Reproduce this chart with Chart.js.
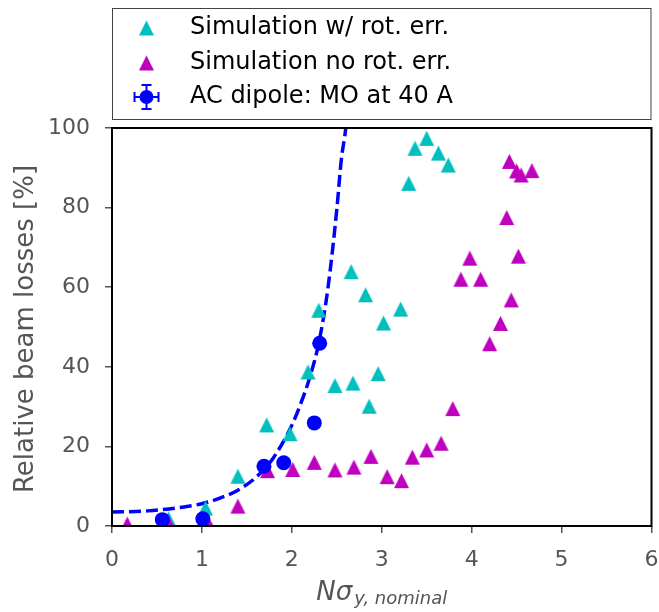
<!DOCTYPE html>
<html>
<head>
<meta charset="utf-8">
<script src="https://cdn.jsdelivr.net/npm/chart.js@4.4.1/dist/chart.umd.min.js"></script>
<style>
  html, body { margin: 0; padding: 0; background: #fff; }
  #wrap { width: 659px; height: 612px; }
</style>
</head>
<body>
<div id="wrap"><canvas id="lossChart" width="659" height="612"></canvas></div>
<script>
// Relative beam losses vs N sigma_y (nominal)
const CYAN = '#00bfbf';
const MAGENTA = '#bf00bf';
const BLUE = '#0000ff';
const TEXT_GRAY = '#555555';
const FONT = '"DejaVu Sans", sans-serif';

// simulation with rotation errors
const rotErrX = [0.63, 1.04, 1.40, 1.72, 1.98, 2.18, 2.30, 2.48, 2.66, 2.68, 2.82, 2.86, 2.96, 3.02, 3.21, 3.30, 3.37, 3.50, 3.63, 3.74];
const rotErrY = [1.8, 4.5, 12.5, 25.4, 23.2, 38.7, 54.2, 35.3, 63.9, 35.9, 58.1, 30.1, 38.3, 51.0, 54.5, 86.1, 94.9, 97.4, 93.7, 90.7];

// simulation without rotation errors
const noRotX = [0.17, 0.64, 1.07, 1.40, 1.73, 2.01, 2.25, 2.48, 2.69, 2.88, 3.06, 3.22, 3.34, 3.50, 3.66, 3.79, 3.88, 3.98, 4.10, 4.20, 4.32, 4.39, 4.42, 4.44, 4.50, 4.52, 4.55, 4.67];
const noRotY = [0.5, 0.3, 0.8, 5.0, 13.9, 14.2, 16.0, 14.1, 14.8, 17.5, 12.4, 11.4, 17.3, 19.1, 20.8, 29.5, 62.0, 67.3, 62.0, 45.8, 50.9, 77.5, 91.6, 56.8, 89.2, 67.8, 88.2, 89.3];

// AC dipole measurement, MO at 40 A
const acX = [0.56, 1.01, 1.69, 1.91, 2.25, 2.31];
const acY = [1.6, 1.8, 15.0, 15.9, 25.9, 45.9];

// dashed fit curve
const fitX = [0, 0.4, 0.8, 1.0, 1.2, 1.4, 1.6, 1.8, 2.0, 2.1, 2.2, 2.3, 2.4, 2.5, 2.55, 2.6, 2.63];
const fitY = [3.5, 3.8, 4.8, 5.6, 7.0, 9.0, 12.2, 17.3, 25.3, 30.8, 37.4, 46.0, 59.5, 79.5, 92.0, 100, 108];

const xTicks = [0, 1, 2, 3, 4, 5, 6];
const yTicks = [0, 20, 40, 60, 80, 100];

const toPoints = (xs, ys) => xs.map((x, i) => ({ x: x, y: ys[i] }));

// matplotlib-like '^' marker (centered on its bounding box)
function triangleMarker(color, size) {
  const c = document.createElement('canvas');
  c.width = size + 2;
  c.height = size + 2;
  const g = c.getContext('2d');
  g.fillStyle = color;
  g.beginPath();
  g.moveTo(1 + size / 2, 1);
  g.lineTo(1 + size, 1 + size);
  g.lineTo(1, 1 + size);
  g.closePath();
  g.fill();
  return c;
}

const TRI_CYAN = triangleMarker(CYAN, 15);
const TRI_MAGENTA = triangleMarker(MAGENTA, 15);

const PLOT = { left: 112, right: 653, top: 128, bottom: 526 };

// frame, axis titles and the legend box
const decorations = {
  id: 'decorations',
  afterDatasetsDraw(chart) {
    const ctx = chart.ctx;
    const a = chart.chartArea;
    ctx.save();
    ctx.strokeStyle = '#000';
    ctx.lineWidth = 2;
    ctx.strokeRect(a.left, a.top, a.right - a.left, a.bottom - a.top);
    ctx.restore();
  },
  afterDraw(chart) {
    const ctx = chart.ctx;
    const a = chart.chartArea;
    ctx.save();

    // y title
    ctx.fillStyle = TEXT_GRAY;
    ctx.font = '26px ' + FONT;
    ctx.textAlign = 'center';
    ctx.textBaseline = 'alphabetic';
    ctx.translate(33, (a.top + a.bottom) / 2 + 2);
    ctx.rotate(-Math.PI / 2);
    ctx.fillText('Relative beam losses [%]', 0, 0);
    ctx.setTransform(1, 0, 0, 1, 0, 0);

    // x title: N sigma with subscript
    const main = 'N\u03c3';
    const sub = 'y, nominal';
    ctx.font = 'italic 26px ' + FONT;
    const wMain = ctx.measureText(main).width;
    ctx.font = 'italic 18px ' + FONT;
    const wSub = ctx.measureText(sub).width;
    const x0 = (a.left + a.right) / 2 - (wMain + wSub + 2) / 2;
    ctx.textAlign = 'left';
    ctx.font = 'italic 26px ' + FONT;
    ctx.fillText(main, x0, 600);
    ctx.font = 'italic 18px ' + FONT;
    ctx.fillText(sub, x0 + wMain + 2, 604);

    // legend
    ctx.strokeStyle = '#444';
    ctx.lineWidth = 1;
    ctx.strokeRect(a.left + 0.5, 8.5, a.right - a.left - 1, 111);
    const mx = 146.5;
    const rows = [28, 63, 97];
    ctx.drawImage(TRI_CYAN, mx - TRI_CYAN.width / 2, rows[0] - TRI_CYAN.height / 2);
    ctx.drawImage(TRI_MAGENTA, mx - TRI_MAGENTA.width / 2, rows[1] - TRI_MAGENTA.height / 2);
    // error bar marker
    const ey = rows[2];
    ctx.strokeStyle = BLUE;
    ctx.lineWidth = 2;
    ctx.beginPath();
    ctx.moveTo(mx - 12, ey); ctx.lineTo(mx + 12, ey);
    ctx.moveTo(mx - 12, ey - 5); ctx.lineTo(mx - 12, ey + 5);
    ctx.moveTo(mx + 12, ey - 5); ctx.lineTo(mx + 12, ey + 5);
    ctx.moveTo(mx, ey - 12); ctx.lineTo(mx, ey + 12);
    ctx.moveTo(mx - 5, ey - 12); ctx.lineTo(mx + 5, ey - 12);
    ctx.moveTo(mx - 5, ey + 12); ctx.lineTo(mx + 5, ey + 12);
    ctx.stroke();
    ctx.fillStyle = BLUE;
    ctx.beginPath();
    ctx.arc(mx, ey, 7, 0, Math.PI * 2);
    ctx.fill();

    ctx.fillStyle = '#000';
    ctx.font = '24px ' + FONT;
    ctx.textAlign = 'left';
    ctx.textBaseline = 'middle';
    const labels = ['Simulation w/ rot. err.', 'Simulation no rot. err.', 'AC dipole: MO at 40 A'];
    labels.forEach((t, i) => ctx.fillText(t, 190, rows[i]));
    ctx.restore();
  }
};

const tickFont = { family: FONT, size: 22 };

new Chart(document.getElementById('lossChart'), {
  type: 'scatter',
  data: {
    datasets: [
      {
        label: 'AC dipole: MO at 40 A',
        data: toPoints(acX, acY),
        pointStyle: 'circle',
        pointRadius: 7.5,
        pointBackgroundColor: BLUE,
        pointBorderWidth: 0,
      },
      {
        label: 'Simulation no rot. err.',
        data: toPoints(noRotX, noRotY),
        pointStyle: TRI_MAGENTA,
      },
      {
        label: 'Simulation w/ rot. err.',
        data: toPoints(rotErrX, rotErrY),
        pointStyle: TRI_CYAN,
      },
      {
        type: 'line',
        label: 'fit',
        data: toPoints(fitX, fitY),
        borderColor: BLUE,
        borderWidth: 3.5,
        borderDash: [12, 5],
        pointRadius: 0,
        fill: false,
        cubicInterpolationMode: 'monotone',
      },
    ],
  },
  options: {
    responsive: false,
    animation: false,
    events: [],
    layout: { padding: { top: PLOT.top, right: 659 - PLOT.right, left: 0, bottom: 0 } },
    plugins: {
      legend: { display: false },
      tooltip: { enabled: false },
    },
    scales: {
      x: {
        type: 'linear',
        min: 0,
        max: 6,
        afterFit: (s) => {
          s.height = 612 - PLOT.bottom;
          s.paddingLeft = 0;
          s.paddingRight = 0;
        },
        afterBuildTicks: (s) => { s.ticks = xTicks.map((v) => ({ value: v })); },
        grid: { display: true, drawOnChartArea: false, tickLength: 7, tickColor: TEXT_GRAY, lineWidth: 1.5 },
        border: { display: false },
        ticks: { color: TEXT_GRAY, font: tickFont, padding: 14 },
      },
      y: {
        type: 'linear',
        min: 0,
        max: 100,
        afterFit: (s) => {
          s.width = PLOT.left;
          s.paddingTop = 0;
          s.paddingBottom = 0;
        },
        afterBuildTicks: (s) => { s.ticks = yTicks.map((v) => ({ value: v })); },
        grid: { display: true, drawOnChartArea: false, tickLength: 7, tickColor: TEXT_GRAY, lineWidth: 1.5 },
        border: { display: false },
        ticks: { color: TEXT_GRAY, font: tickFont, padding: 15 },
      },
    },
  },
  plugins: [decorations],
});
</script>
</body>
</html>
